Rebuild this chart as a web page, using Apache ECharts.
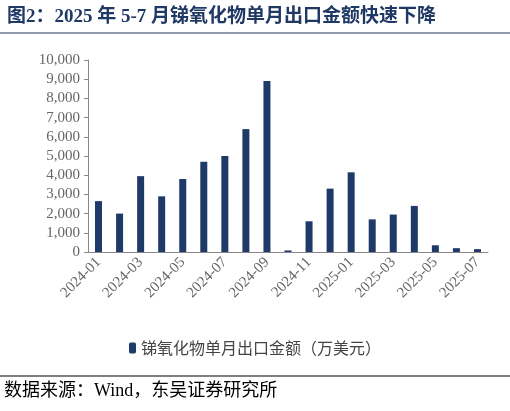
<!DOCTYPE html><html><head><meta charset="utf-8">
<script src="https://cdn.jsdelivr.net/npm/echarts@6/dist/echarts.min.js"></script>
<style>body{margin:0;background:#fff}#c{width:510px;height:411px}</style></head><body><div id="c"></div><script>
const categories=['2024-01','2024-02','2024-03','2024-04','2024-05','2024-06','2024-07','2024-08','2024-09','2024-10','2024-11','2024-12','2025-01','2025-02','2025-03','2025-04','2025-05','2025-06','2025-07'];
const values=[2650,2000,3950,2900,3800,4700,5000,6400,8900,80,1600,3300,4150,1700,1950,2400,350,200,150];
const seriesName='锑氧化物单月出口金额（万美元）';
const serif='"Liberation Serif","DejaVu Serif",serif';
const navy='#1f3a68';
const chart=echarts.init(document.getElementById('c'));
chart.setOption({
 animation:false,
 title:{text:'图2：2025 年 5-7 月锑氧化物单月出口金额快速下降',left:2,top:3,textStyle:{fontSize:19,fontWeight:'bold',color:'#1f3864',fontFamily:serif+',"Noto Sans CJK SC"'}},
 graphic:[
  {type:'line',shape:{x1:0,y1:33,x2:510,y2:33},style:{stroke:'#1f3864',lineWidth:1}},
  {type:'line',shape:{x1:0,y1:376,x2:510,y2:376},style:{stroke:'#000',lineWidth:1}},
  {type:'text',left:4,top:382,style:{text:'数据来源：Wind，东吴证券研究所',fontSize:18,fill:'#000',fontFamily:serif+',"Noto Sans CJK SC"'}}
 ],
 legend:{bottom:50,left:'center',itemWidth:7,itemHeight:11,textStyle:{fontSize:16,color:'#444',fontFamily:'"Noto Sans CJK SC"'},data:[seriesName]},
 grid:{left:88,right:22,top:60,bottom:159},
 xAxis:{type:'category',data:categories,axisTick:{show:false},axisLine:{lineStyle:{color:'#888'}},
  axisLabel:{rotate:45,interval:1,fontSize:15,color:'#666',fontFamily:serif,margin:8}},
 yAxis:{type:'value',min:0,max:10000,interval:1000,splitLine:{show:false},axisLine:{show:true,lineStyle:{color:'#888'}},axisTick:{show:true,length:4,lineStyle:{color:'#888'}},
  axisLabel:{fontSize:15,color:'#666',fontFamily:serif,formatter:v=>v.toLocaleString('en-US')}},
 series:[{name:seriesName,type:'bar',data:values,barWidth:7,itemStyle:{color:navy}}]
});
</script></body></html>
